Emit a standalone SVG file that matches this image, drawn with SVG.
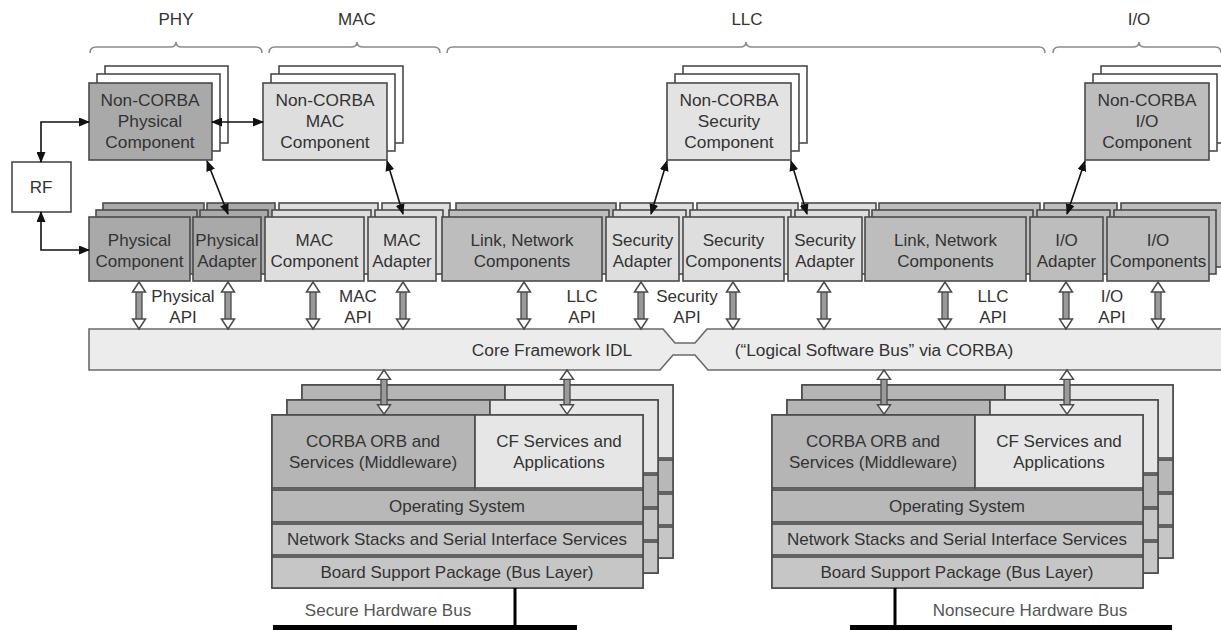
<svg xmlns="http://www.w3.org/2000/svg" xmlns:xlink="http://www.w3.org/1999/xlink" width="1221" height="630" viewBox="0 0 1221 630">
  <style>
    text { font-family: "Liberation Sans", Arial, sans-serif; fill: #333; text-anchor: middle; }
    .t17 { font-size: 17.3px; }
    .t16 { font-size: 17px; }
    .box { stroke: #4a4a4a; stroke-width: 1.6; }
    .back { fill: #ffffff; stroke: #4a4a4a; stroke-width: 1.6; }
    .dark { fill: #a9a9a9; }
    .med { fill: #bdbdbd; }
    .light { fill: #dedede; }
    .pale { fill: #e6e6e6; }
    .brace { fill: none; stroke: #8a8a8a; stroke-width: 1.6; }
    .conn { fill: none; stroke: #111; stroke-width: 1.6; marker-start: url(#ah); marker-end: url(#ah); }
    .hw { fill: #000; }
  </style>
  <defs>
    <marker id="ah" markerUnits="userSpaceOnUse" markerWidth="11" markerHeight="9" refX="10" refY="4.5" orient="auto-start-reverse">
      <path d="M0,0 L11,4.5 L0,9 z" fill="#111"/>
    </marker>
    <!-- hollow double-headed API arrow, 47 units tall -->
    <g id="dbl">
      <rect x="-3" y="8" width="6" height="31" fill="#9a9a9a" stroke="#4a4a4a" stroke-width="1.3"/>
      <polygon points="0,0 -6.5,10 6.5,10" fill="#fff" stroke="#4a4a4a" stroke-width="1.5"/>
      <polygon points="0,47 -6.5,37 6.5,37" fill="#fff" stroke="#4a4a4a" stroke-width="1.5"/>
    </g>
    <!-- one processor board layer (used for the rear layers of each stack) -->
    <g id="board">
      <rect x="272" y="415" width="371" height="173" fill="#c6c6c6" stroke="#4a4a4a" stroke-width="1.6"/>
      <rect x="272" y="415" width="203" height="73" fill="#b5b5b5" stroke="#4a4a4a" stroke-width="1.6"/>
      <rect x="475" y="415" width="168" height="73" fill="#e6e6e6" stroke="#4a4a4a" stroke-width="1.6"/>
      <rect x="272" y="490" width="371" height="32" fill="#b8b8b8" stroke="#4a4a4a" stroke-width="1.6"/>
      <rect x="272" y="524" width="371" height="31" fill="#c6c6c6" stroke="#4a4a4a" stroke-width="1.6"/>
      <rect x="272" y="557" width="371" height="31" fill="#c6c6c6" stroke="#4a4a4a" stroke-width="1.6"/>
    </g>
  </defs>

  <!-- layer braces -->
  <g id="braces">
    <path class="brace" d="M90,53 Q90,47 96,47 L170,47 Q176,47 176,42 Q176,47 182,47 L256,47 Q262,47 262,53"/>
    <path class="brace" d="M269,53 Q269,47 275,47 L351,47 Q357,47 357,42 Q357,47 363,47 L434,47 Q440,47 440,53"/>
    <path class="brace" d="M447,53 Q447,47 453,47 L740,47 Q746,47 746,42 Q746,47 752,47 L1039,47 Q1045,47 1045,53"/>
    <path class="brace" d="M1053,53 Q1053,47 1059,47 L1133,47 Q1139,47 1139,42 Q1139,47 1145,47 L1215,47 Q1221,47 1221,53"/>
    <text class="t16" x="176" y="25">PHY</text>
    <text class="t16" x="357" y="25">MAC</text>
    <text class="t16" x="747" y="25">LLC</text>
    <text class="t16" x="1139" y="25">I/O</text>
  </g>

  <!-- Non-CORBA components (stacked) -->
  <g id="nc-phy">
    <rect class="back" x="105" y="66" width="123" height="77"/>
    <rect class="back" x="97" y="74" width="123" height="77"/>
    <rect class="box dark" x="89" y="83" width="123" height="77"/>
    <text class="t17" x="150" y="106">Non-CORBA</text>
    <text class="t17" x="150" y="127">Physical</text>
    <text class="t17" x="150" y="148">Component</text>
  </g>
  <g id="nc-mac">
    <rect class="back" x="279" y="66" width="124" height="77"/>
    <rect class="back" x="271" y="74" width="124" height="77"/>
    <rect class="box light" x="263" y="83" width="124" height="77"/>
    <text class="t17" x="325" y="106">Non-CORBA</text>
    <text class="t17" x="325" y="127">MAC</text>
    <text class="t17" x="325" y="148">Component</text>
  </g>
  <g id="nc-sec">
    <rect class="back" x="683" y="66" width="124" height="77"/>
    <rect class="back" x="675" y="74" width="124" height="77"/>
    <rect class="box" style="fill:#e3e3e3" x="667" y="83" width="124" height="77"/>
    <text class="t17" x="729" y="106">Non-CORBA</text>
    <text class="t17" x="729" y="127">Security</text>
    <text class="t17" x="729" y="148">Component</text>
  </g>
  <g id="nc-io">
    <rect class="back" x="1101" y="66" width="124" height="77"/>
    <rect class="back" x="1093" y="74" width="124" height="77"/>
    <rect class="box med" x="1085" y="83" width="124" height="77"/>
    <text class="t17" x="1147" y="106">Non-CORBA</text>
    <text class="t17" x="1147" y="127">I/O</text>
    <text class="t17" x="1147" y="148">Component</text>
  </g>

  <!-- RF -->
  <g id="rf">
    <rect x="12" y="162" width="59" height="50" fill="#fff" stroke="#4a4a4a" stroke-width="1.6"/>
    <text class="t16" x="41" y="193">RF</text>
  </g>

  <!-- rear layers of the CORBA component row -->
  <g id="row-back" class="box">
    <rect class="dark" x="103" y="203" width="101" height="64"/>
    <rect class="dark" x="207" y="203" width="68" height="64"/>
    <rect class="light" x="279" y="203" width="99" height="64"/>
    <rect class="light" x="382" y="203" width="68" height="64"/>
    <rect class="med" x="456" y="203" width="160" height="64"/>
    <rect class="light" x="620" y="203" width="73" height="64"/>
    <rect class="light" x="697" y="203" width="101" height="64"/>
    <rect class="light" x="802" y="203" width="74" height="64"/>
    <rect class="med" x="879" y="203" width="161" height="64"/>
    <rect class="med" x="1044" y="203" width="73" height="64"/>
    <rect class="med" x="1121" y="203" width="102" height="64"/>
    <rect class="dark" x="96" y="210" width="101" height="64"/>
    <rect class="dark" x="200" y="210" width="68" height="64"/>
    <rect class="light" x="272" y="210" width="99" height="64"/>
    <rect class="light" x="375" y="210" width="68" height="64"/>
    <rect class="med" x="449" y="210" width="160" height="64"/>
    <rect class="light" x="613" y="210" width="73" height="64"/>
    <rect class="light" x="690" y="210" width="101" height="64"/>
    <rect class="light" x="795" y="210" width="74" height="64"/>
    <rect class="med" x="872" y="210" width="161" height="64"/>
    <rect class="med" x="1037" y="210" width="73" height="64"/>
    <rect class="med" x="1114" y="210" width="102" height="64"/>
  </g>

  <!-- CORBA component row -->
  <g id="phy-comp">
    <rect class="box dark" x="89" y="217" width="101" height="64"/>
    <text class="t16" x="139.5" y="246">Physical</text>
    <text class="t16" x="139.5" y="267">Component</text>
  </g>
  <g id="phy-adapter">
    <rect class="box dark" x="193" y="217" width="68" height="64"/>
    <text class="t16" x="227" y="246">Physical</text>
    <text class="t16" x="227" y="267">Adapter</text>
  </g>
  <g id="mac-comp">
    <rect class="box light" x="265" y="217" width="99" height="64"/>
    <text class="t16" x="314.5" y="246">MAC</text>
    <text class="t16" x="314.5" y="267">Component</text>
  </g>
  <g id="mac-adapter">
    <rect class="box light" x="368" y="217" width="68" height="64"/>
    <text class="t16" x="402" y="246">MAC</text>
    <text class="t16" x="402" y="267">Adapter</text>
  </g>
  <g id="link-net-1">
    <rect class="box med" x="442" y="217" width="160" height="64"/>
    <text class="t16" x="522" y="246">Link, Network</text>
    <text class="t16" x="522" y="267">Components</text>
  </g>
  <g id="sec-adapter-1">
    <rect class="box light" x="606" y="217" width="73" height="64"/>
    <text class="t16" x="642.5" y="246">Security</text>
    <text class="t16" x="642.5" y="267">Adapter</text>
  </g>
  <g id="sec-comp">
    <rect class="box light" x="683" y="217" width="101" height="64"/>
    <text class="t16" x="733.5" y="246">Security</text>
    <text class="t16" x="733.5" y="267">Components</text>
  </g>
  <g id="sec-adapter-2">
    <rect class="box light" x="788" y="217" width="74" height="64"/>
    <text class="t16" x="825" y="246">Security</text>
    <text class="t16" x="825" y="267">Adapter</text>
  </g>
  <g id="link-net-2">
    <rect class="box med" x="865" y="217" width="161" height="64"/>
    <text class="t16" x="945.5" y="246">Link, Network</text>
    <text class="t16" x="945.5" y="267">Components</text>
  </g>
  <g id="io-adapter">
    <rect class="box med" x="1030" y="217" width="73" height="64"/>
    <text class="t16" x="1066.5" y="246">I/O</text>
    <text class="t16" x="1066.5" y="267">Adapter</text>
  </g>
  <g id="io-comp">
    <rect class="box med" x="1107" y="217" width="102" height="64"/>
    <text class="t16" x="1158" y="246">I/O</text>
    <text class="t16" x="1158" y="267">Components</text>
  </g>

  <!-- API labels -->
  <g id="api-labels">
    <text class="t16" x="183" y="302">Physical</text>
    <text class="t16" x="183" y="323">API</text>
    <text class="t16" x="358" y="302">MAC</text>
    <text class="t16" x="358" y="323">API</text>
    <text class="t16" x="582" y="302">LLC</text>
    <text class="t16" x="582" y="323">API</text>
    <text class="t16" x="687" y="302">Security</text>
    <text class="t16" x="687" y="323">API</text>
    <text class="t16" x="993" y="302">LLC</text>
    <text class="t16" x="993" y="323">API</text>
    <text class="t16" x="1112" y="302">I/O</text>
    <text class="t16" x="1112" y="323">API</text>
  </g>

  <!-- logical software bus -->
  <g id="bus">
    <path d="M89,329 L663,329 L675,343 L695,343 L707,329 L1225,329 L1225,370 L708,370 L695,355 L673,355 L660,370 L89,370 Z" fill="#ececec" stroke="#6a6a6a" stroke-width="1.6"/>
    <text class="t17" x="552" y="356">Core Framework IDL</text>
    <text class="t17" x="874" y="356">(“Logical Software Bus” via CORBA)</text>
  </g>

  <!-- processor boards -->
  <g id="board-secure">
    <use xlink:href="#board" transform="translate(30,-30)"/>
    <use xlink:href="#board" transform="translate(15,-15)"/>
    <use xlink:href="#board"/>
    <text class="t16" x="373" y="447">CORBA ORB and</text>
    <text class="t16" x="373" y="468">Services (Middleware)</text>
    <text class="t16" x="559" y="447">CF Services and</text>
    <text class="t16" x="559" y="468">Applications</text>
    <text class="t16" x="457" y="512">Operating System</text>
    <text class="t16" x="457" y="545">Network Stacks and Serial Interface Services</text>
    <text class="t16" x="457" y="578">Board Support Package (Bus Layer)</text>
  </g>
  <g id="board-nonsecure">
    <use xlink:href="#board" transform="translate(530,-30)"/>
    <use xlink:href="#board" transform="translate(515,-15)"/>
    <use xlink:href="#board" transform="translate(500,0)"/>
    <text class="t16" x="873" y="447">CORBA ORB and</text>
    <text class="t16" x="873" y="468">Services (Middleware)</text>
    <text class="t16" x="1059" y="447">CF Services and</text>
    <text class="t16" x="1059" y="468">Applications</text>
    <text class="t16" x="957" y="512">Operating System</text>
    <text class="t16" x="957" y="545">Network Stacks and Serial Interface Services</text>
    <text class="t16" x="957" y="578">Board Support Package (Bus Layer)</text>
  </g>

  <!-- hardware buses -->
  <g id="hw-secure">
    <rect class="hw" x="513.5" y="588" width="3" height="38"/>
    <rect class="hw" x="273" y="625" width="304" height="5"/>
    <text class="t16" x="388" y="616" style="fill:#555">Secure Hardware Bus</text>
  </g>
  <g id="hw-nonsecure">
    <rect class="hw" x="893.5" y="588" width="3" height="38"/>
    <rect class="hw" x="850" y="625" width="322" height="5"/>
    <text class="t16" x="1030" y="616" style="fill:#555">Nonsecure Hardware Bus</text>
  </g>

  <!-- connectors -->
  <g id="connectors">
    <path class="conn" d="M41,162 L41,122 L89,122"/>
    <path class="conn" d="M41,212 L41,250 L89,250"/>
    <path class="conn" d="M212,122 L263,122"/>
    <path class="conn" d="M207,161 L228,214"/>
    <path class="conn" d="M387,161 L403,214"/>
    <path class="conn" d="M667,161 L651,214"/>
    <path class="conn" d="M791,161 L807,214"/>
    <path class="conn" d="M1085,161 L1067,214"/>
    <use xlink:href="#dbl" x="139" y="282"/>
    <use xlink:href="#dbl" x="228" y="282"/>
    <use xlink:href="#dbl" x="313" y="282"/>
    <use xlink:href="#dbl" x="403" y="282"/>
    <use xlink:href="#dbl" x="524" y="282"/>
    <use xlink:href="#dbl" x="641" y="282"/>
    <use xlink:href="#dbl" x="733" y="282"/>
    <use xlink:href="#dbl" x="824" y="282"/>
    <use xlink:href="#dbl" x="945" y="282"/>
    <use xlink:href="#dbl" x="1066" y="282"/>
    <use xlink:href="#dbl" x="1158" y="282"/>
    <use xlink:href="#dbl" transform="translate(384,370) scale(1,0.94)"/>
    <use xlink:href="#dbl" transform="translate(567,370) scale(1,0.94)"/>
    <use xlink:href="#dbl" transform="translate(884,370) scale(1,0.94)"/>
    <use xlink:href="#dbl" transform="translate(1067,370) scale(1,0.94)"/>
  </g>
</svg>
